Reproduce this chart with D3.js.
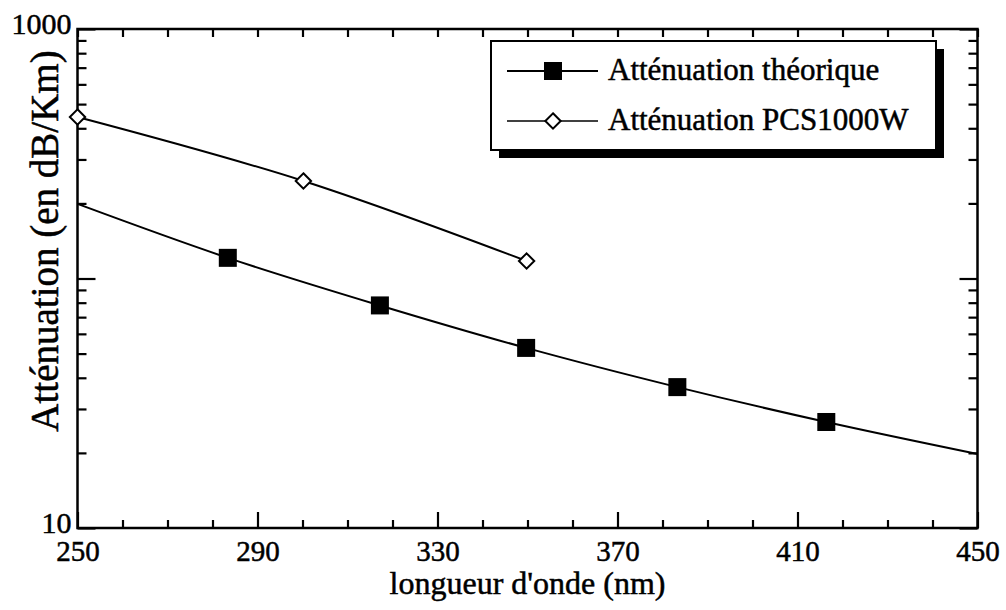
<!DOCTYPE html>
<html><head><meta charset="utf-8">
<script src="https://cdn.jsdelivr.net/npm/d3@7"></script>
<style>
body{margin:0;background:#fff}
svg{display:block}
text{font-family:"Liberation Serif","Times New Roman",Times,serif;fill:#000;stroke:#000;stroke-width:0.5px}
</style>
</head><body>
<svg id="c" width="1006" height="610"></svg>
<script>
// ---- data ----
const theoX = [283.4, 317.2, 349.7, 383.3, 416.4];
const theoY = [121, 78, 52.7, 36.7, 26.6];
const theoCurveX = [250, 283.4, 317.2, 349.7, 383.3, 416.4, 450];
const theoCurveY = [199, 121, 78, 52.7, 36.7, 26.6, 19.8];
const pcsX = [250, 300.2, 349.8];
const pcsY = [444, 246, 117.5];
const xTickLabels = [250, 290, 330, 370, 410, 450];
const xMinorTicks = [260, 270, 280, 300, 310, 320, 340, 350, 360, 380, 390, 400, 420, 430, 440];
const yTickLabels = [10, 1000];
const yMajorTicks = [10, 100, 1000];
const yMinorTicks = [20, 30, 40, 50, 60, 70, 80, 90, 200, 300, 400, 500, 600, 700, 800, 900];
const seriesNames = ["Atténuation théorique", "Atténuation PCS1000W"];
const xTitle = "longueur d'onde (nm)";
const yTitle = "Atténuation (en dB/Km)";

// ---- layout ----
const L = 77.5, T = 29, W = 900, H = 499;
const svg = d3.select("#c");
const x = d3.scaleLinear().domain([250, 450]).range([L, L + W]);
const y = d3.scaleLog().domain([10, 1000]).range([T + H, T]);

const g = svg.append("g");

function styleAxis(sel) {
  sel.select(".domain").remove();
  sel.selectAll(".tick line").attr("stroke", "#000").attr("stroke-width", 2.2);
}

// bottom axis (labels + major ticks)
g.append("g").attr("transform", `translate(0,${T + H})`)
  .call(d3.axisBottom(x).tickValues(xTickLabels).tickSize(-16).tickPadding(12).tickFormat(d3.format("d")))
  .call(styleAxis)
  .call(s => s.selectAll("text").attr("font-size", 29).attr("fill", "#000"));
g.append("g").attr("transform", `translate(0,${T + H})`)
  .call(d3.axisBottom(x).tickValues(xMinorTicks).tickSize(-8).tickFormat(""))
  .call(styleAxis);
// top axis
g.append("g").attr("transform", `translate(0,${T})`)
  .call(d3.axisTop(x).tickValues(xTickLabels).tickSize(-8).tickFormat(""))
  .call(styleAxis);
g.append("g").attr("transform", `translate(0,${T})`)
  .call(d3.axisTop(x).tickValues(xMinorTicks).tickSize(-8).tickFormat(""))
  .call(styleAxis);
// left axis
g.append("g").attr("transform", `translate(${L},0)`)
  .call(d3.axisLeft(y).tickValues(yMajorTicks).tickSize(-18).tickPadding(6)
    .tickFormat(d => yTickLabels.includes(d) ? d3.format("d")(d) : ""))
  .call(styleAxis)
  .call(s => s.selectAll("text").attr("font-size", 30).attr("fill", "#000").attr("dy", "0.15em"));
g.append("g").attr("transform", `translate(${L},0)`)
  .call(d3.axisLeft(y).tickValues(yMinorTicks).tickSize(-9).tickFormat(""))
  .call(styleAxis);
// right axis
g.append("g").attr("transform", `translate(${L + W},0)`)
  .call(d3.axisRight(y).tickValues(yMajorTicks).tickSize(-18).tickFormat(""))
  .call(styleAxis);
g.append("g").attr("transform", `translate(${L + W},0)`)
  .call(d3.axisRight(y).tickValues(yMinorTicks).tickSize(-9).tickFormat(""))
  .call(styleAxis);

// frame
g.append("rect").attr("x", L).attr("y", T).attr("width", W).attr("height", H)
  .attr("fill", "none").attr("stroke", "#000").attr("stroke-width", 2.5);

// curves
const line = d3.line().x(d => x(d[0])).y(d => y(d[1])).curve(d3.curveCatmullRom.alpha(0.5));
g.append("path").datum(d3.zip(theoCurveX, theoCurveY)).attr("d", line)
  .attr("fill", "none").attr("stroke", "#000").attr("stroke-width", 2);
g.append("path").datum(d3.zip(pcsX, pcsY)).attr("d", line)
  .attr("fill", "none").attr("stroke", "#000").attr("stroke-width", 2);

// markers
const sq = 18;
g.selectAll(".sq").data(d3.zip(theoX, theoY)).join("rect")
  .attr("x", d => x(d[0]) - sq / 2).attr("y", d => y(d[1]) - sq / 2)
  .attr("width", sq).attr("height", sq).attr("fill", "#000");
const diamond = d3.symbol().type(d3.symbolDiamond2).size(150);
g.selectAll(".dm").data(d3.zip(pcsX, pcsY)).join("path")
  .attr("d", diamond)
  .attr("transform", d => `translate(${x(d[0])},${y(d[1])})`)
  .attr("fill", "#fff").attr("stroke", "#000").attr("stroke-width", 2);

// legend
const lg = svg.append("g");
lg.append("rect").attr("x", 499).attr("y", 49).attr("width", 445).attr("height", 109).attr("fill", "#000");
lg.append("rect").attr("x", 491).attr("y", 41).attr("width", 445).attr("height", 109)
  .attr("fill", "#fff").attr("stroke", "#000").attr("stroke-width", 2);
const rowsY = [71, 121];
rowsY.forEach((ry, i) => {
  lg.append("line").attr("x1", 507).attr("x2", 598).attr("y1", ry).attr("y2", ry)
    .attr("stroke", "#000").attr("stroke-width", i === 0 ? 2 : 1.5);
  if (i === 0) {
    lg.append("rect").attr("x", 553 - sq / 2).attr("y", ry - sq / 2).attr("width", sq).attr("height", sq).attr("fill", "#000");
  } else {
    lg.append("path").attr("d", diamond).attr("transform", `translate(553,${ry})`)
      .attr("fill", "#fff").attr("stroke", "#000").attr("stroke-width", 2);
  }
  lg.append("text").attr("x", 608).attr("y", ry + 9).attr("font-size", 31).text(seriesNames[i]);
});

// titles
svg.append("text").attr("x", L + W / 2).attr("y", 594).attr("text-anchor", "middle")
  .attr("font-size", 32).text(xTitle);
svg.append("text").attr("transform", `translate(58,241) rotate(-90)`).attr("text-anchor", "middle")
  .attr("font-size", 39).text(yTitle);
</script>
</body></html>
